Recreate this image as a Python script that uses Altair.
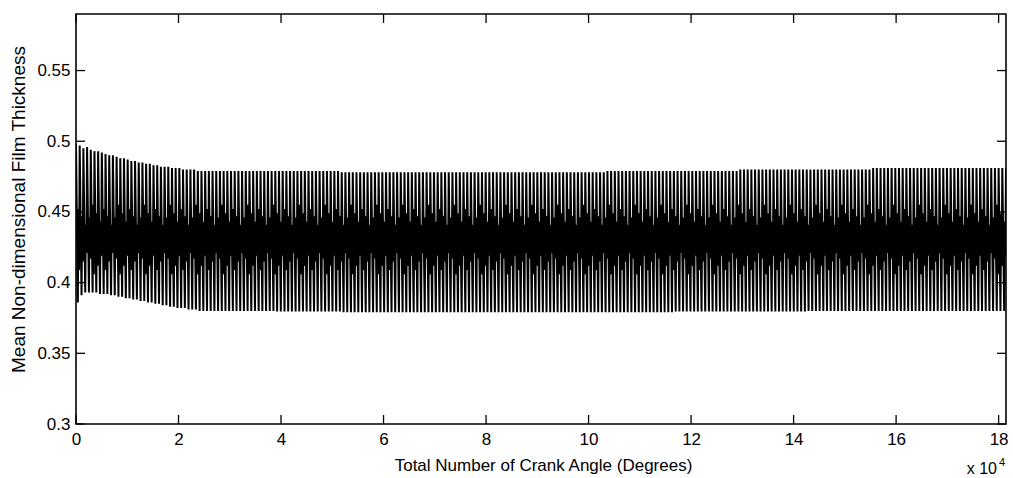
import altair as alt
import pandas as pd

# ---- data ----
CYCLE_DEG = 720  # one engine cycle (crank angle degrees)
# peak (upper) and trough (lower) film thickness of the first 36 cycles (transient)
upper_transient = [0.498, 0.497, 0.495, 0.496, 0.494, 0.493, 0.493, 0.492, 0.491, 0.490,
                   0.490, 0.489, 0.488, 0.488, 0.487, 0.486, 0.486, 0.485, 0.485, 0.484,
                   0.484, 0.483, 0.483, 0.482, 0.482, 0.482, 0.481, 0.481, 0.481, 0.480,
                   0.480, 0.480, 0.480, 0.479, 0.479, 0.479]
lower_transient = [0.386, 0.391, 0.393, 0.393, 0.393, 0.393, 0.392, 0.392, 0.392, 0.391,
                   0.391, 0.390, 0.390, 0.389, 0.389, 0.388, 0.388, 0.387, 0.387, 0.386,
                   0.386, 0.385, 0.385, 0.384, 0.384, 0.383, 0.383, 0.382, 0.382, 0.382,
                   0.381, 0.381, 0.381, 0.380, 0.380, 0.380]
# steady part: envelope per block of 18 cycles
BLOCK_CYCLES = 18
upper_plateau = [0.479, 0.479, 0.478, 0.478, 0.478, 0.478, 0.479, 0.479, 0.480, 0.480, 0.481, 0.481]
lower_plateau = [0.380, 0.3795, 0.379, 0.379, 0.379, 0.379, 0.379, 0.3795, 0.3795, 0.380, 0.380, 0.380]
# secondary swing inside every cycle (alternates through a short repeating pattern)
mid_high = [0.452, 0.447, 0.441, 0.446, 0.455, 0.449, 0.443]
mid_low = [0.409, 0.415, 0.421, 0.417, 0.406, 0.412, 0.419]
# where inside a cycle each extreme is reached (degrees)
phase_deg = [0, 360, 480, 600]

x_tick_values = [0, 20000, 40000, 60000, 80000, 100000, 120000, 140000, 160000, 180000]
y_tick_values = [0.3, 0.35, 0.4, 0.45, 0.5, 0.55]
x_domain = [0, 181440]
y_domain = [0.3, 0.59]

# ---- build table ----
upper = list(upper_transient)
lower = list(lower_transient)
for u, l in zip(upper_plateau, lower_plateau):
    upper += [u] * BLOCK_CYCLES
    lower += [l] * BLOCK_CYCLES

rows = []
for k, (u, l) in enumerate(zip(upper, lower)):
    t0 = k * CYCLE_DEG
    mh = mid_high[k % len(mid_high)]
    ml = mid_low[k % len(mid_low)]
    for ph, v in zip(phase_deg, [u, l, mh, ml]):
        rows.append({"x": t0 + ph, "y": v})
rows.append({"x": x_domain[1], "y": upper[-1]})
df = pd.DataFrame(rows)

W, H = 930, 410
FONT = "Liberation Sans"

xaxis = alt.Axis(values=x_tick_values, labelExpr="datum.value / 10000", ticks=False,
                 domain=False, grid=False, labelFontSize=17, labelPadding=7,
                 labelFlush=False, labelOverlap=False, labelColor="black",
                 title="Total Number of Crank Angle (Degrees)", titleFontSize=17,
                 titleFontWeight="normal", titleColor="black",
                 titleX=467, titleY=41, titleBaseline="middle", titleAlign="center")
yaxis = alt.Axis(values=y_tick_values, format="~g", ticks=False, domain=False, grid=False,
                 labelFontSize=17, labelPadding=6, labelColor="black", labelOverlap=False,
                 labelFlush=False,
                 title="Mean Non-dimensional Film Thickness", titleFontSize=19,
                 titleFontWeight="normal", titleColor="black",
                 titleX=-58, titleY=195, titleBaseline="middle", titleAlign="center",
                 titleAngle=270)

X = alt.X("x:Q", scale=alt.Scale(domain=x_domain, nice=False, zero=False), axis=xaxis)
Y = alt.Y("y:Q", scale=alt.Scale(domain=y_domain, nice=False, zero=False), axis=yaxis)

line = alt.Chart(df).mark_line(color="black", strokeWidth=2.0, strokeJoin="bevel",
                               clip=True).encode(x=X, y=Y, order="x:Q")

xt = pd.DataFrame({"x": x_tick_values})
yt = pd.DataFrame({"y": y_tick_values})
TL = 9
tick_style = dict(color="black", strokeWidth=1.3)
xb = alt.Chart(xt).mark_rule(**tick_style).encode(x=X, y=alt.value(H), y2=alt.value(H - TL))
xtop = alt.Chart(xt).mark_rule(**tick_style).encode(x=X, y=alt.value(0), y2=alt.value(TL))
yl = alt.Chart(yt).mark_rule(**tick_style).encode(y=Y, x=alt.value(0), x2=alt.value(TL))
yr = alt.Chart(yt).mark_rule(**tick_style).encode(y=Y, x=alt.value(W), x2=alt.value(W - TL))

exp_base = alt.Chart(pd.DataFrame({"t": ["x 10"]})).mark_text(
    font=FONT, fontSize=16, align="right", baseline="alphabetic", color="black"
).encode(x=alt.value(921), y=alt.value(460), text="t:N")
exp_pow = alt.Chart(pd.DataFrame({"t": ["4"]})).mark_text(
    font=FONT, fontSize=11, align="left", baseline="alphabetic", color="black"
).encode(x=alt.value(923), y=alt.value(452), text="t:N")

chart = alt.layer(line, xb, xtop, yl, yr, exp_base, exp_pow).properties(
    width=W, height=H,
    autosize=alt.AutoSizeParams(type="none"),
    padding={"left": 76, "top": 14, "right": 7, "bottom": 54},
    background="white",
).configure_view(stroke="black", strokeWidth=1.6).configure_axis(
    labelFont=FONT, titleFont=FONT
).configure_text(font=FONT)

chart.save("out.html", embed_options={"renderer": "svg", "actions": False})
